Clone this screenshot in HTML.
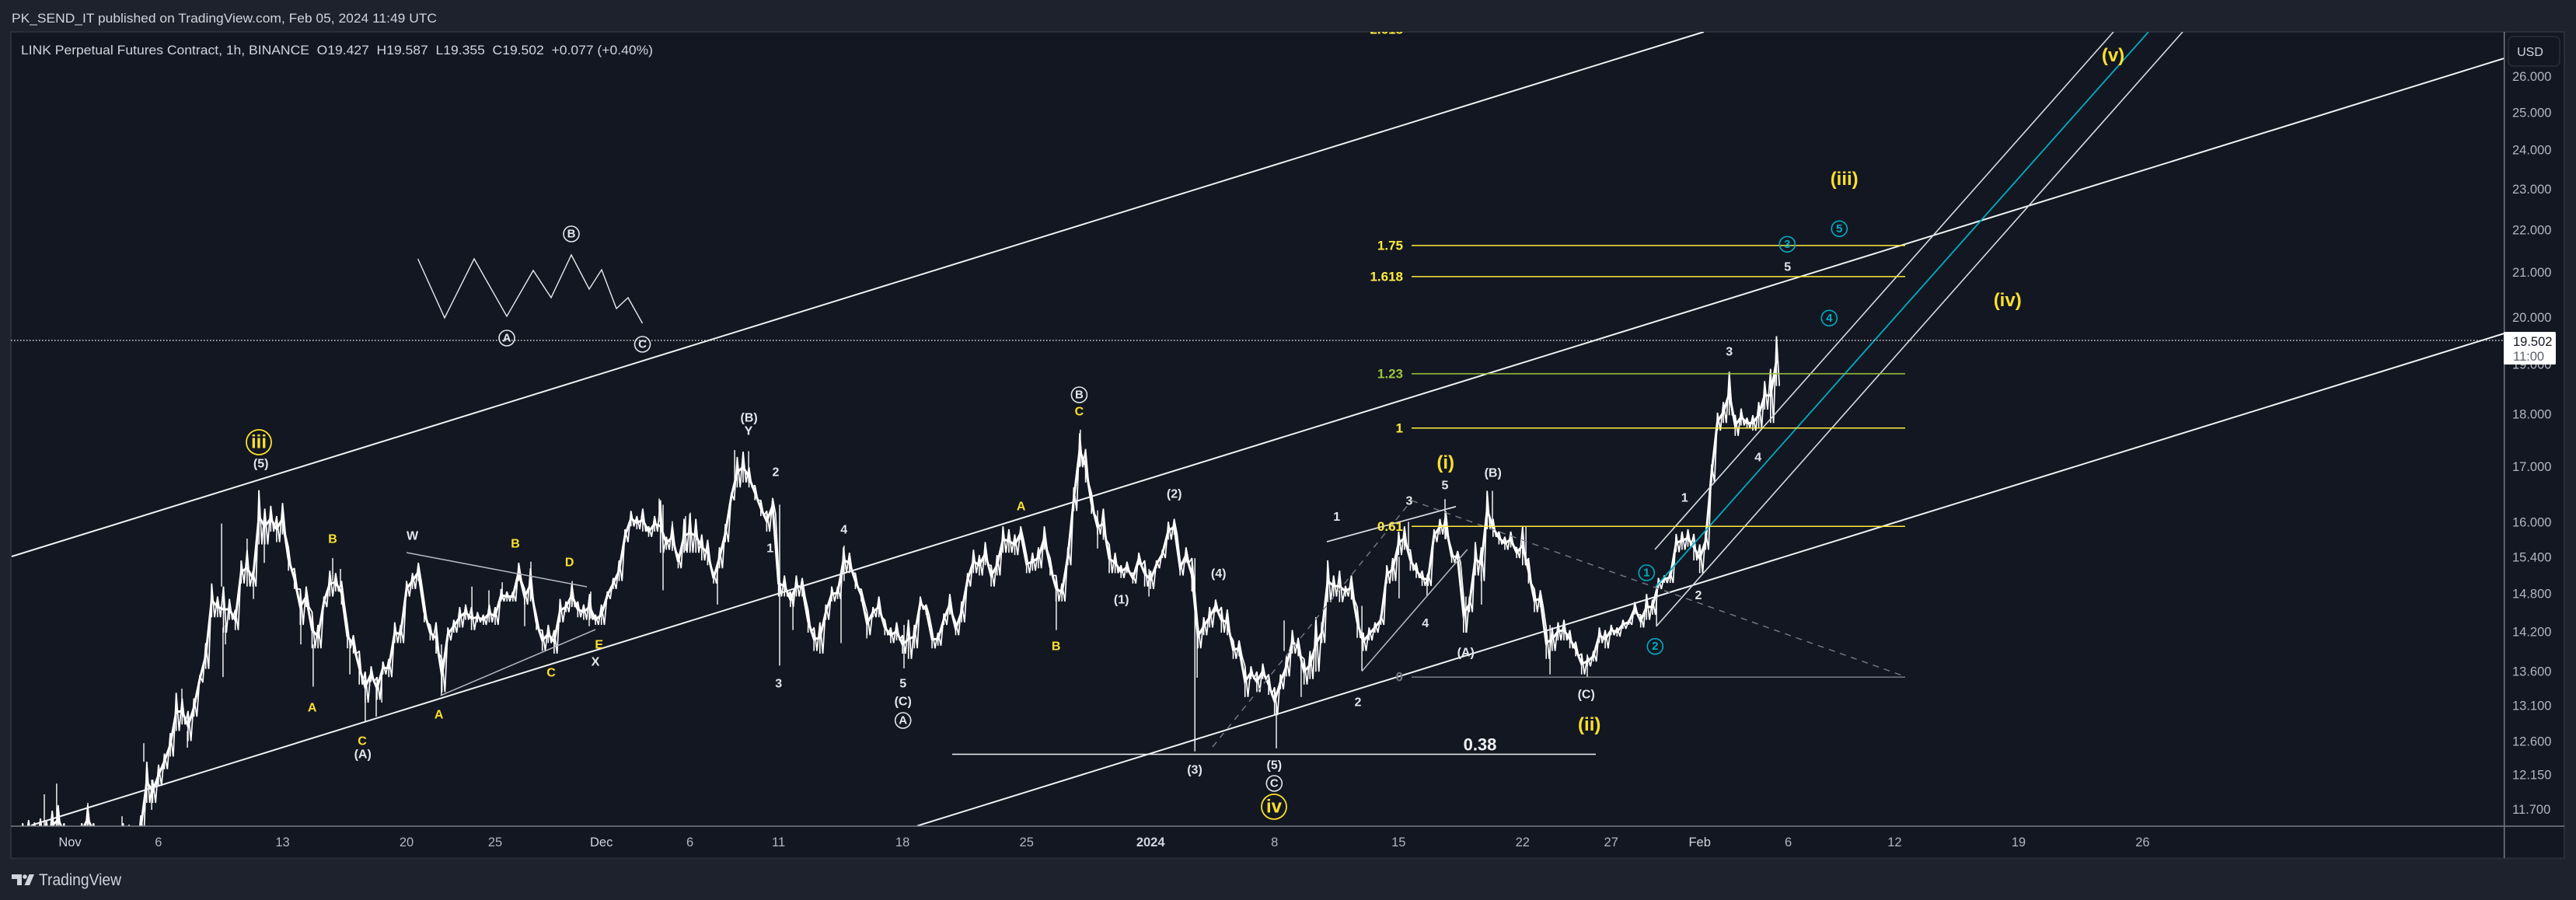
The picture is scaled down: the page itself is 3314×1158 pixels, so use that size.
<!DOCTYPE html>
<html lang="en">
<head>
<meta charset="utf-8">
<title>LINK Perpetual Futures Contract, 1h, BINANCE</title>
<style>
html,body{margin:0;padding:0;background:#1e222d;}
body{width:3314px;height:1158px;overflow:hidden;}
svg{display:block;font-family:"Liberation Sans",sans-serif;}
.w{fill:#e4e6ec;font:bold 16px "Liberation Sans",sans-serif;text-anchor:middle;dominant-baseline:central;}
.y{fill:#fbe02d;font:bold 16px "Liberation Sans",sans-serif;text-anchor:middle;dominant-baseline:central;}
.big{fill:#fbe02d;font:bold 24px "Liberation Sans",sans-serif;text-anchor:middle;dominant-baseline:central;}
.cw{fill:#e4e6ec;font:bold 15px "Liberation Sans",sans-serif;text-anchor:middle;dominant-baseline:central;}
.cc{fill:#00acc1;font:bold 15px "Liberation Sans",sans-serif;text-anchor:middle;dominant-baseline:central;}
.ring-w{fill:none;stroke:#e4e6ec;stroke-width:1.6;}
.ring-c{fill:none;stroke:#00acc1;stroke-width:1.6;}
.ring-y{fill:none;stroke:#fbe02d;stroke-width:1.8;}
.fib{font:bold 17px "Liberation Sans",sans-serif;text-anchor:end;dominant-baseline:central;}
</style>
</head>
<body>
<svg id="chart" width="3314" height="1158" viewBox="0 0 3314 1158" xmlns="http://www.w3.org/2000/svg">
  <defs><clipPath id="pane-clip"><rect x="14" y="41" width="3207.5" height="1022"/></clipPath></defs>
  <rect x="0" y="0" width="3314" height="1158" fill="#1e222d"/>
  <text x="15" y="29" font-size="17" fill="#d1d4dc" textLength="547" lengthAdjust="spacingAndGlyphs">PK_SEND_IT published on TradingView.com, Feb 05, 2024 11:49 UTC</text>
  <rect x="14" y="41" width="3285" height="1063.5" fill="#131722" stroke="#2a2e39" stroke-width="2"/>

  <g id="pane" clip-path="url(#pane-clip)">
    <g id="series"></g>

    <g fill="none" stroke="#f0f1f4">
      <line x1="15" y1="716" x2="2192" y2="41" stroke-width="2"/>
      <line x1="40" y1="1062" x2="3221.7" y2="75" stroke-width="2"/>
      <line x1="1180" y1="1062.6" x2="3221.7" y2="429" stroke-width="2"/>
      <line x1="2129" y1="707" x2="2719" y2="41" stroke="#d8dae0" stroke-width="1.6"/>
      <line x1="2130" y1="755" x2="2764" y2="41" stroke="#00acc1" stroke-width="1.8"/>
      <line x1="2130.7" y1="806" x2="2808" y2="41" stroke="#d8dae0" stroke-width="1.6"/>
      <line x1="523" y1="711" x2="755" y2="755" stroke="#b5b8c2" stroke-width="1.5"/>
      <line x1="566.7" y1="895" x2="766" y2="810" stroke="#b5b8c2" stroke-width="1.5"/>
      <line x1="1707" y1="697" x2="1873" y2="651.7" stroke="#d8dae0" stroke-width="1.8"/>
      <line x1="1752" y1="863.7" x2="1887.7" y2="707" stroke="#b5b8c2" stroke-width="1.5"/>
      <line x1="1560" y1="961" x2="1816" y2="644" stroke="#787b86" stroke-width="1.4" stroke-dasharray="8 7"/>
      <line x1="1816" y1="644" x2="2451" y2="870.5" stroke="#787b86" stroke-width="1.4" stroke-dasharray="8 7"/>
      <line x1="1225" y1="970.5" x2="2053" y2="970.5" stroke-width="1.6"/>
      <polyline stroke="#e8e9ed" stroke-width="1.4" points="537.6,333 572,409 610,333 652,407 686,348 709,383 735,328 758,372 774,347 793,397 808,383 826.5,416"/>
      <line x1="14" y1="438" x2="3221" y2="438" stroke="#ffffff" stroke-width="1.2" stroke-dasharray="1.5 2.5"/>
    </g>

    <g id="fib-levels"></g>

    <g>
      <circle class="ring-y" cx="333" cy="569" r="16"/>
      <text class="big" x="333" y="569">iii</text>
      <text class="w" x="335.7" y="597">(5)</text>
      <text class="y" x="428" y="694">B</text>
      <text class="y" x="401.7" y="911">A</text>
      <text class="y" x="466" y="954">C</text>
      <text class="w" x="466.7" y="971">(A)</text>
      <text class="w" x="530.6" y="690">W</text>
      <text class="y" x="564.7" y="920">A</text>
      <text class="y" x="663" y="700">B</text>
      <text class="y" x="732.7" y="724">D</text>
      <text class="y" x="709" y="866">C</text>
      <text class="y" x="770.7" y="830">E</text>
      <text class="w" x="766" y="852">X</text>
      <text class="w" x="963.6" y="538">(B)</text>
      <text class="w" x="963" y="555">Y</text>
      <text class="w" x="998" y="608">2</text>
      <text class="w" x="990.7" y="706">1</text>
      <text class="w" x="1001.7" y="880">3</text>
      <text class="w" x="1085.7" y="682">4</text>
      <text class="w" x="1161.7" y="880">5</text>
      <text class="w" x="1161.7" y="903">(C)</text>
      <circle class="ring-w" cx="1161.7" cy="927" r="10"/>
      <text class="cw" x="1161.7" y="927">A</text>
      <text class="y" x="1313.7" y="652">A</text>
      <text class="y" x="1358.7" y="832">B</text>
      <circle class="ring-w" cx="1388.4" cy="508" r="10"/>
      <text class="cw" x="1388.4" y="508">B</text>
      <text class="y" x="1388.4" y="530">C</text>
      <text class="w" x="1510.7" y="636">(2)</text>
      <text class="w" x="1442.7" y="772">(1)</text>
      <text class="w" x="1537" y="991">(3)</text>
      <text class="w" x="1567.7" y="738.7">(4)</text>
      <text class="w" x="1639.3" y="985">(5)</text>
      <circle class="ring-w" cx="1639.3" cy="1008" r="10"/>
      <text class="cw" x="1639.3" y="1008">C</text>
      <circle class="ring-y" cx="1639" cy="1038" r="16"/>
      <text class="big" x="1639" y="1038">iv</text>
      <text class="w" x="1719.7" y="665.7">1</text>
      <text class="w" x="1813" y="645">3</text>
      <text class="w" x="1859" y="625">5</text>
      <text class="big" x="1859.7" y="595.7">(i)</text>
      <text class="w" x="1920.7" y="609">(B)</text>
      <text class="w" x="1747" y="904">2</text>
      <text class="w" x="1833.7" y="802.7">4</text>
      <text class="w" x="1885.7" y="840">(A)</text>
      <text class="w" x="2040.7" y="894">(C)</text>
      <text class="big" x="2044.7" y="932.7">(ii)</text>
      <circle class="ring-c" cx="2118.3" cy="737" r="10"/>
      <text class="cc" x="2118.3" y="737">1</text>
      <circle class="ring-c" cx="2129.3" cy="831.7" r="10"/>
      <text class="cc" x="2129.3" y="831.7">2</text>
      <text class="w" x="2167.3" y="641">1</text>
      <text class="w" x="2185" y="766.7">2</text>
      <text class="w" x="2224.7" y="453">3</text>
      <text class="w" x="2261.7" y="589">4</text>
      <text class="big" x="2372.7" y="230.7">(iii)</text>
      <circle class="ring-c" cx="2366.3" cy="294.3" r="10"/>
      <text class="cc" x="2366.3" y="294.3">5</text>
      <circle class="ring-c" cx="2299.3" cy="314.3" r="10"/>
      <text class="cc" x="2299.3" y="314.3">3</text>
      <text class="w" x="2299.7" y="344">5</text>
      <circle class="ring-c" cx="2353.3" cy="409.3" r="10"/>
      <text class="cc" x="2353.3" y="409.3">4</text>
      <text class="big" x="2582.7" y="386.7">(iv)</text>
      <text class="big" x="2718.5" y="71.7">(v)</text>
      <circle class="ring-w" cx="652" cy="435" r="10"/>
      <text class="cw" x="652" y="435">A</text>
      <circle class="ring-w" cx="735" cy="301" r="10"/>
      <text class="cw" x="735" y="301">B</text>
      <circle class="ring-w" cx="826.5" cy="443" r="10"/>
      <text class="cw" x="826.5" y="443">C</text>
      <text x="1904" y="958" font-family="Liberation Sans" font-weight="bold" font-size="22" fill="#f0f1f4" text-anchor="middle" dominant-baseline="central">0.38</text>
    </g>
  </g>

  <text x="27" y="70" font-size="17" fill="#d1d4dc" textLength="813" lengthAdjust="spacingAndGlyphs" xml:space="preserve">LINK Perpetual Futures Contract, 1h, BINANCE  O19.427  H19.587  L19.355  C19.502  +0.077 (+0.40%)</text>

  <line x1="14" y1="1063" x2="3299" y2="1063" stroke="#787b86" stroke-width="1.5"/>
  <line x1="3221.7" y1="41" x2="3221.7" y2="1104" stroke="#787b86" stroke-width="1.5"/>
  <g id="price-axis"></g>
  <g id="time-axis"></g>

  <g>
    <rect x="3221" y="427" width="67" height="42" rx="1.5" fill="#ffffff"/>
    <text x="3233" y="445" font-size="16.5" fill="#131722">19.502</text>
    <text x="3233" y="464" font-size="16.5" fill="#5d606b">11:00</text>
  </g>
  <g>
    <rect x="3227" y="47" width="66" height="38" rx="6" fill="#131722" stroke="#2a2e39" stroke-width="1.5"/>
    <text x="3255" y="72" font-size="16" fill="#d1d4dc" text-anchor="middle">USD</text>
  </g>

  <g fill="#d1d4dc">
    <path d="M15 1125H28V1139H22V1131H15Z"/>
    <circle cx="32" cy="1128" r="2.8"/>
    <path d="M37.5 1125H44L38 1139H31.5Z"/>
    <text x="50" y="1139" font-size="21" textLength="106" lengthAdjust="spacingAndGlyphs">TradingView</text>
  </g>
</svg>

<script>
// Scale parameters
const firstDay = -3;           // first sample, days since Nov 1 2023
const samplesPerDay = 3;

// 8-hourly high readings (USD)
const highs = [
11.40,11.52,11.56,11.53,11.58,11.56,11.68,11.75,11.52,11.47,
11.47,11.52,11.75,11.52,11.45,11.40,11.40,11.42,11.52,11.50,
11.45,11.62,12.32,12.08,12.28,12.43,12.71,13.28,13.20,13.02,
13.20,13.54,14.02,14.96,14.75,14.91,14.71,14.54,15.34,15.52,
15.17,16.56,16.23,16.28,16.10,16.33,15.56,15.21,14.87,14.91,
14.50,14.30,14.75,15.17,15.13,15.00,14.30,14.14,13.90,13.59,
13.67,13.51,13.74,13.78,14.34,14.30,15.00,15.13,15.30,14.67,
14.30,14.34,13.78,14.26,14.38,14.58,14.62,14.58,14.50,14.46,
14.62,14.58,14.87,14.83,14.83,15.30,14.87,15.21,14.46,14.22,
14.30,14.22,14.71,14.67,14.96,14.67,14.62,14.79,14.46,14.62,
14.83,15.05,15.34,15.87,16.19,16.10,16.23,15.92,16.10,16.38,
15.74,15.96,15.43,16.05,16.14,16.05,15.78,15.69,15.13,15.56,
15.96,16.51,17.17,17.27,16.98,16.65,16.38,16.19,16.42,15.17,
15.09,14.83,15.09,15.05,14.54,14.26,14.34,14.62,14.91,14.91,
15.56,15.47,15.13,14.87,14.50,14.58,14.75,14.38,14.26,14.34,
14.14,14.38,14.30,14.75,14.62,14.22,14.18,14.48,14.79,14.34,
14.67,15.13,15.52,15.43,15.65,15.26,15.43,15.92,15.87,15.78,
15.92,15.43,15.47,15.56,15.92,15.38,15.09,14.96,15.56,16.61,
17.62,17.32,16.51,16.05,16.23,15.61,15.47,15.26,15.32,15.13,
15.47,15.34,15.17,15.34,15.52,16.00,16.05,15.34,15.56,15.38,
14.30,14.42,14.58,14.70,14.58,14.54,14.06,14.06,13.67,13.67,
13.59,13.71,13.55,13.36,13.55,13.82,14.22,14.10,13.78,13.90,
14.42,14.34,15.34,15.09,15.17,14.92,15.09,14.58,14.18,14.26,
14.34,14.46,15.26,15.38,15.83,15.92,15.52,15.30,15.17,15.13,
15.87,16.05,16.18,15.52,15.50,14.75,14.75,15.65,15.56,16.55,
16.05,15.83,15.74,15.83,15.56,15.92,15.38,14.87,14.85,14.26,
14.26,14.34,14.38,14.22,14.04,13.86,13.82,13.90,14.26,14.22,
14.30,14.26,14.38,14.38,14.66,14.46,14.79,14.70,15.05,15.09,
15.15,15.79,15.83,15.87,15.79,15.61,15.83,17.03,18.02,18.23,
18.84,17.97,18.10,17.92,17.97,18.23,18.65,18.90,19.587];

// 8-hourly low readings (USD)
const lows = [
11.25,11.32,11.32,11.30,11.30,11.32,11.30,11.38,11.30,11.25,
11.25,11.32,11.40,11.32,11.25,11.20,11.20,11.20,11.30,11.30,
11.25,11.32,11.78,11.78,12.00,12.22,12.39,12.74,12.83,12.60,
12.94,13.43,13.63,14.42,14.42,14.18,14.38,14.22,14.96,14.91,
14.91,15.61,15.61,15.83,15.65,15.78,15.17,14.87,14.30,14.58,
13.94,13.94,14.58,14.75,14.83,14.62,13.94,13.86,13.40,13.14,
13.44,13.18,13.55,13.51,14.02,14.02,14.75,14.87,15.00,14.34,
14.06,13.86,13.29,14.06,14.18,14.26,14.38,14.22,14.34,14.30,
14.34,14.30,14.67,14.67,14.67,15.00,14.62,14.67,14.22,13.90,
14.02,13.86,14.34,14.50,14.58,14.42,14.38,14.38,14.30,14.30,
14.71,14.87,15.00,15.65,15.92,15.87,15.83,15.74,15.83,15.47,
15.52,15.52,15.21,15.47,15.47,15.47,15.34,15.26,14.96,15.21,
15.65,16.38,16.61,16.70,16.61,16.38,16.10,15.83,16.14,14.75,
14.75,14.58,14.75,14.75,14.18,13.90,13.86,14.38,14.67,14.71,
15.13,15.13,14.87,14.67,14.14,14.42,14.42,14.14,14.02,14.06,
13.86,13.78,13.94,14.54,14.46,13.94,13.98,14.30,14.46,14.14,
14.34,14.91,15.13,15.09,15.26,14.91,15.09,15.47,15.47,15.43,
15.69,15.13,15.17,15.21,15.52,15.09,14.67,14.67,15.26,16.19,
16.98,16.70,16.14,15.78,15.69,15.13,15.13,15.05,15.13,14.96,
15.26,14.91,14.87,15.21,15.38,15.69,15.78,15.09,15.30,14.83,
13.94,14.14,14.26,14.50,14.18,14.14,13.78,13.82,13.22,13.48,
13.29,13.48,13.25,12.96,13.33,13.52,13.86,13.82,13.40,13.48,
13.59,14.02,14.66,14.75,14.66,14.75,14.70,14.10,13.90,14.06,
14.18,14.30,14.96,15.00,15.43,15.52,15.17,15.05,14.92,14.92,
15.65,15.78,15.70,15.30,15.30,14.18,14.50,15.09,15.00,15.87,
15.74,15.61,15.52,15.56,15.38,15.26,14.96,14.50,14.58,13.78,
13.90,14.06,14.06,13.94,13.82,13.55,13.67,13.74,14.02,13.94,
14.14,14.12,14.24,14.30,14.46,14.26,14.38,14.46,14.87,14.97,
14.97,15.48,15.52,15.57,15.34,15.13,15.52,16.70,17.67,17.82,
17.97,17.57,17.77,17.72,17.67,17.72,18.08,17.82,18.55];

// Long single-bar wicks: day since Nov 1, wick high, wick low
const wickDays = [-1.45,-0.75,1.01,2.94,4.17,4.61,6.32,6.63,8.56,8.64,8.78,10.0,10.36,10.97,13.03,13.73,14.83,15.27,15.8,16.67,17.29,17.6,20.97,22.69,23.65,24.4,25.67,26.02,28.35,29.31,29.4,33.26,33.48,34.0,34.75,35.02,36.55,37.52,38.31,40.06,40.81,43.53,43.7,44.98,47.08,55.68,57.04,58.01,60.91,63.5,63.63,68.1,68.54,69.5,72.93,75.03,75.56,76.61,77.62,78.8,79.68,80.3,82.19,83.55,85.65,89.56];
const wickHighs = [11.89,12.03,11.78,11.61,12.57,12.08,13.34,12.74,15.97,14.26,14.30,15.71,15.00,16.00,14.70,14.00,15.38,15.20,14.10,13.50,13.40,13.60,14.00,14.91,14.85,14.98,14.85,15.32,15.00,14.60,14.83,16.41,16.30,16.01,16.10,16.16,15.10,17.30,17.28,16.30,14.80,15.00,15.59,14.40,14.30,15.00,17.69,16.20,15.20,15.38,14.30,13.10,14.37,13.80,14.60,15.40,16.00,15.10,16.40,14.75,15.10,16.55,15.93,14.30,13.85,14.70];
const wickLows = [11.48,11.48,11.48,11.48,12.32,11.69,13.10,12.51,14.91,13.51,14.00,15.10,14.71,15.30,14.00,13.37,15.00,14.90,13.55,12.87,12.94,13.14,13.25,14.40,14.40,14.70,14.28,14.70,14.60,14.28,14.40,16.00,14.85,15.50,15.50,15.50,14.62,16.70,16.70,13.68,14.22,14.02,15.00,14.09,13.64,14.22,17.00,15.54,14.75,12.46,13.50,12.50,13.90,13.22,13.60,14.72,15.50,14.75,15.70,14.18,14.62,15.90,15.30,13.55,13.50,14.28];

// Price axis ticks (log scale)
const priceTicks = [26,25,24,23,22,21,20,19,18,17,16,15.4,14.8,14.2,13.6,13.1,12.6,12.15,11.7];

// Time axis ticks
const timeTickDays = [0,5,12,19,24,30,35,40,47,54,61,68,75,82,87,92,97,103,110,117];
const timeTickLabels = ['Nov','6','13','20','25','Dec','6','11','18','25','2024','8','15','22','27','Feb','6','12','19','26'];
const timeTickStrong = ['Nov','Dec','2024','Feb'];

// Fibonacci levels
const fibRatios = ['0','0.61','1','1.23','1.618','1.75'];
const fibPrices = [13.51,15.92,17.72,18.80,20.90,21.62];
const fibColors = ['#787b86','#ffeb3b','#ffeb3b','#9bc53d','#ffeb3b','#ffeb3b'];

const NS = 'http://www.w3.org/2000/svg';
function sX(day){ return 90 + 22.79 * day; }
function sY(price){ return 98 + 1181 * Math.log(26 / price); }
function sampleDay(i){ return firstDay + i / samplesPerDay; }

const seriesLayer = document.getElementById('series');

// Mid-range trace through each sample
const midPoints = highs.map(function(v,i){
  return sX(sampleDay(i)).toFixed(1)+','+sY((v+lows[i])/2).toFixed(1);
});
const midLine = document.createElementNS(NS,'polyline');


midLine.setAttribute('points', midPoints.join(' '));
midLine.setAttribute('fill', 'none');
midLine.setAttribute('stroke', '#ffffff');
midLine.setAttribute('stroke-width', '3');
seriesLayer.appendChild(midLine);

// Jagged high-low scribble, one zig per sample, like dense hourly bars
const zigParts = [];
highs.forEach(function(v,i){
  const x = sX(sampleDay(i));
  zigParts.push(x.toFixed(1)+','+sY(v).toFixed(1));
  zigParts.push((x+3.8).toFixed(1)+','+sY(lows[i]).toFixed(1));
});
const zig = document.createElementNS(NS,'polyline');


zig.setAttribute('points', zigParts.join(' '));
zig.setAttribute('fill', 'none');
zig.setAttribute('stroke', '#ffffff');
zig.setAttribute('stroke-width', '1.7');
zig.setAttribute('stroke-linejoin', 'bevel');
seriesLayer.appendChild(zig);

// One high-low bar per sample
highs.forEach(function(v,i){
  const bar = document.createElementNS(NS,'line');
  
  
  const x = sX(sampleDay(i)).toFixed(1);
  bar.setAttribute('x1', x);
  bar.setAttribute('x2', x);
  bar.setAttribute('y1', sY(v).toFixed(1));
  bar.setAttribute('y2', sY(lows[i]).toFixed(1));
  bar.setAttribute('stroke', '#ffffff');
  bar.setAttribute('stroke-width', '1.6');
  seriesLayer.appendChild(bar);
});

wickDays.forEach(function(d,i){
  const w = document.createElementNS(NS,'line');
  
  
  w.setAttribute('x1', sX(d).toFixed(1));
  w.setAttribute('x2', sX(d).toFixed(1));
  w.setAttribute('y1', sY(wickHighs[i]).toFixed(1));
  w.setAttribute('y2', sY(wickLows[i]).toFixed(1));
  w.setAttribute('stroke', '#ffffff');
  w.setAttribute('stroke-width', '1.4');
  seriesLayer.appendChild(w);
});

const fibLayer = document.getElementById('fib-levels');
const fibStart = 1816, fibEnd = 2451;
fibRatios.forEach(function(r,i){
  const ln = document.createElementNS(NS,'line');
  
  
  ln.setAttribute('x1', fibStart);
  ln.setAttribute('x2', fibEnd);
  ln.setAttribute('y1', sY(fibPrices[i]).toFixed(1));
  ln.setAttribute('y2', sY(fibPrices[i]).toFixed(1));
  ln.setAttribute('stroke', fibColors[i]);
  ln.setAttribute('stroke-width', '1.5');
  fibLayer.appendChild(ln);
  const tx = document.createElementNS(NS,'text');
  
  
  tx.setAttribute('class', 'fib');
  tx.setAttribute('x', 1805);
  tx.setAttribute('y', sY(fibPrices[i]).toFixed(1));
  tx.setAttribute('fill', fibColors[i]);
  tx.textContent = r;
  fibLayer.appendChild(tx);
});
const topFib = document.createElementNS(NS,'text');


topFib.setAttribute('class', 'fib');
topFib.setAttribute('x', 1805);
topFib.setAttribute('y', 38);
topFib.setAttribute('fill', '#ffeb3b');
topFib.textContent = '2.618';
fibLayer.appendChild(topFib);

const priceAxis = document.getElementById('price-axis');
priceTicks.forEach(function(p){
  const t = document.createElementNS(NS,'text');
  
  
  t.setAttribute('x', 3232);
  t.setAttribute('y', (sY(p) + 6).toFixed(1));
  t.setAttribute('font-size', '16.5');
  t.setAttribute('fill', '#b2b5be');
  t.textContent = p.toFixed(3);
  priceAxis.appendChild(t);
});

const timeAxis = document.getElementById('time-axis');
timeTickDays.forEach(function(d,i){
  const t = document.createElementNS(NS,'text');
  
  
  t.setAttribute('x', sX(d).toFixed(1));
  t.setAttribute('y', 1089);
  t.setAttribute('text-anchor', 'middle');
  t.setAttribute('font-size', '16.5');
  const strong = timeTickStrong.indexOf(timeTickLabels[i]) >= 0;
  t.setAttribute('fill', strong ? '#d1d4dc' : '#b2b5be');
  if (timeTickLabels[i] === '2024') t.setAttribute('font-weight', 'bold');
  t.textContent = timeTickLabels[i];
  timeAxis.appendChild(t);
});
</script>
</body>
</html>
